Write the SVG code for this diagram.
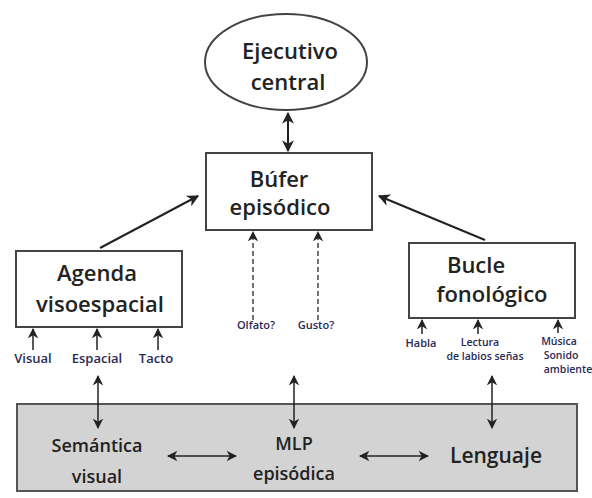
<svg xmlns="http://www.w3.org/2000/svg" width="592" height="498" viewBox="0 0 592 498">
<defs>
<marker id="ah" viewBox="0 0 10 10" refX="9" refY="5" markerWidth="6" markerHeight="6" orient="auto-start-reverse" markerUnits="strokeWidth">
<path d="M0,0 L10,5 L0,10 L3,5 Z" fill="#222"/>
</marker>
<marker id="ahs" viewBox="0 0 10 10" refX="9" refY="5" markerWidth="7" markerHeight="7" orient="auto-start-reverse" markerUnits="strokeWidth">
<path d="M0,0 L10,5 L0,10 L3,5 Z" fill="#222"/>
</marker>
</defs>
<style>
.box{fill:#fff;stroke:#444;stroke-width:2}
.big{font-family:"Open Sans","Liberation Sans",sans-serif;font-weight:600;fill:#222;text-anchor:middle}
.sm{font-family:"Open Sans","Liberation Sans",sans-serif;font-weight:600;fill:#2a2a55;text-anchor:middle}
.ln{stroke:#222;stroke-width:2;fill:none}
.th{stroke:#222;stroke-width:1.5;fill:none}
.dash{stroke:#444;stroke-width:1.5;stroke-dasharray:5,3;fill:none}
</style>
<rect width="592" height="498" fill="#fff"/>
<g id="ejecutivo">
<ellipse cx="286" cy="62" rx="81" ry="48" class="box"/>
<text x="290" y="59" class="big" font-size="22">Ejecutivo</text>
<text x="288" y="90" class="big" font-size="22">central</text>
</g>
<g id="bufer">
<rect x="206" y="153" width="166" height="77" class="box"/>
<text x="279" y="187" class="big" font-size="22">Búfer</text>
<text x="280" y="215" class="big" font-size="22">episódico</text>
</g>
<g id="agenda">
<rect x="16" y="251" width="166" height="76" class="box"/>
<text x="97" y="281" class="big" font-size="22">Agenda</text>
<text x="100" y="312" class="big" font-size="22">visoespacial</text>
</g>
<g id="bucle">
<rect x="409" y="243" width="166" height="75" class="box"/>
<text x="476" y="273" class="big" font-size="22">Bucle</text>
<text x="492" y="302" class="big" font-size="22">fonológico</text>
</g>
<g id="mlp">
<rect x="17" y="404" width="560" height="87" fill="#d3d3d3" stroke="#555" stroke-width="2"/>
<text x="97" y="452" class="big" font-size="18">Semántica</text>
<text x="97" y="483" class="big" font-size="18">visual</text>
<text x="294" y="450" class="big" font-size="18">MLP</text>
<text x="294" y="480" class="big" font-size="18">episódica</text>
<text x="496" y="463" class="big" font-size="21">Lenguaje</text>
</g>
<g id="labels">
<text x="33" y="363" class="sm" font-size="13">Visual</text>
<text x="97" y="363" class="sm" font-size="13">Espacial</text>
<text x="156" y="363" class="sm" font-size="13">Tacto</text>
<text x="256" y="329" class="sm" font-size="11">Olfato?</text>
<text x="316" y="329" class="sm" font-size="11">Gusto?</text>
<text x="421" y="347" class="sm" font-size="11">Habla</text>
<text x="480" y="346" class="sm" font-size="10.5">Lectura</text>
<text x="485" y="360" class="sm" font-size="10.5">de labios señas</text>
<text x="559" y="345" class="sm" font-size="10.5">Música</text>
<text x="561" y="359" class="sm" font-size="10.5">Sonido</text>
<text x="568" y="373" class="sm" font-size="10.5">ambiente</text>
</g>
<g id="connectors">
<line x1="288" y1="113" x2="288" y2="151" class="ln" marker-start="url(#ah)" marker-end="url(#ah)"/>
<line x1="100" y1="248" x2="198" y2="196" class="ln" marker-end="url(#ah)"/>
<line x1="485" y1="240" x2="379" y2="196" class="ln" marker-end="url(#ah)"/>
<line x1="33" y1="350" x2="33" y2="329" class="th" marker-end="url(#ahs)"/>
<line x1="97" y1="350" x2="97" y2="329" class="th" marker-end="url(#ahs)"/>
<line x1="158" y1="350" x2="158" y2="329" class="th" marker-end="url(#ahs)"/>
<line x1="253" y1="320" x2="253" y2="232" class="dash" marker-end="url(#ahs)"/>
<line x1="318" y1="320" x2="318" y2="232" class="dash" marker-end="url(#ahs)"/>
<line x1="422" y1="334" x2="422" y2="320" class="th" marker-end="url(#ahs)"/>
<line x1="478" y1="334" x2="478" y2="320" class="th" marker-end="url(#ahs)"/>
<line x1="558" y1="333" x2="558" y2="320" class="th" marker-end="url(#ahs)"/>
<line x1="98" y1="376" x2="98" y2="428" class="th" marker-start="url(#ahs)" marker-end="url(#ahs)"/>
<line x1="294" y1="376" x2="294" y2="428" class="th" marker-start="url(#ahs)" marker-end="url(#ahs)"/>
<line x1="492" y1="376" x2="492" y2="428" class="th" marker-start="url(#ahs)" marker-end="url(#ahs)"/>
<line x1="168" y1="456" x2="236" y2="456" class="th" marker-start="url(#ahs)" marker-end="url(#ahs)"/>
<line x1="360" y1="456" x2="428" y2="456" class="th" marker-start="url(#ahs)" marker-end="url(#ahs)"/>
</g>
</svg>
